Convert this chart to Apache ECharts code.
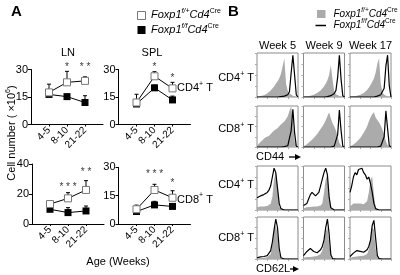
<!DOCTYPE html>
<html>
<head>
<meta charset="utf-8">
<script src="https://cdn.jsdelivr.net/npm/echarts@6/dist/echarts.min.js"></script>
<style>
  html, body { margin: 0; padding: 0; background: #fff; }
  #chart { width: 400px; height: 275px; }
</style>
</head>
<body>
<div id="chart"></div>
<script>
// ---------------------------------------------------------------------------
// Panel A - cell numbers (x10^6), open = f/+, filled = f/f
// ---------------------------------------------------------------------------
const ages = ["4-5", "8-10", "21-22"];

const lnCd4Open = [17.5, 23, 23.8];
const lnCd4OpenErr = [22, 29, 26];
const lnCd4Fill = [16.4, 15.2, 12];
const lnCd4FillErr = [17, 16.5, 15.7];
const lnCd4Stars = ["", "*", "* *"];
const lnCd4StarY = [null, 31.5, 31.5];

const splCd4Open = [12, 26.3, 19.7];
const splCd4OpenErr = [16.5, 28.8, 23];
const splCd4Fill = [11.2, 20, 13.4];
const splCd4FillErr = [13, 21.5, 15.5];
const splCd4Stars = ["", "*", "*"];
const splCd4StarY = [null, 31.5, 25];

const lnCd8Open = [13.3, 17.1, 22.7];
const lnCd8OpenErr = [15.5, 20.9, 28.9];
const lnCd8Fill = [9.8, 7.6, 8.7];
const lnCd8FillErr = [10.5, 10.9, 12];
const lnCd8Stars = ["", "* * *", "* *"];
const lnCd8StarY = [null, 24.5, 34.5];

const splCd8Open = [7.8, 18, 13.9];
const splCd8OpenErr = [10, 21, 17.6];
const splCd8Fill = [6.6, 10.1, 9.3];
const splCd8FillErr = [8, 12, 10.5];
const splCd8Stars = ["", "* * *", "*"];
const splCd8StarY = [null, 26.5, 21.5];

// ---------------------------------------------------------------------------
// Panel B - histograms (25 bins, % of max), grey = f/+, black = f/f
// ---------------------------------------------------------------------------
const weeks = ["Week 5", "Week 9", "Week 17"];

const cd44Cd4Grey = [
  [0, 1, 2, 3, 4, 6, 8, 11, 15, 19, 24, 30, 35, 42, 52, 70, 88, 30, 14, 8, 5, 3, 2, 1, 0],
  [0, 1, 1, 2, 3, 4, 5, 7, 9, 12, 15, 19, 24, 30, 38, 50, 72, 40, 12, 6, 4, 2, 1, 0, 0],
  [0, 1, 1, 2, 3, 4, 5, 7, 9, 12, 16, 21, 27, 34, 42, 55, 75, 88, 30, 10, 5, 3, 1, 0, 0]
];
const cd44Cd4Black = [
  [0, 0, 0, 0, 0, 0, 0, 0, 0, 0, 0, 0, 0, 0, 1, 1, 2, 3, 5, 12, 55, 95, 50, 5, 0],
  [0, 0, 0, 0, 0, 0, 0, 0, 0, 0, 0, 0, 0, 1, 1, 2, 3, 5, 8, 15, 45, 95, 40, 3, 0],
  [0, 0, 0, 0, 0, 0, 0, 0, 0, 0, 0, 0, 0, 0, 0, 1, 2, 3, 5, 8, 20, 70, 95, 25, 0]
];
const cd44Cd8Grey = [
  [2, 8, 12, 16, 20, 24, 28, 27, 32, 36, 40, 42, 46, 50, 55, 58, 62, 68, 75, 88, 100, 60, 15, 3, 0],
  [1, 4, 7, 10, 14, 18, 22, 27, 32, 38, 44, 50, 57, 65, 75, 85, 70, 58, 50, 40, 25, 10, 3, 0, 0],
  [1, 3, 6, 9, 13, 17, 22, 28, 35, 42, 50, 62, 72, 80, 85, 72, 66, 60, 52, 42, 30, 14, 4, 0, 0]
];
const cd44Cd8Black = [
  [0, 0, 0, 0, 0, 0, 0, 0, 0, 0, 0, 0, 0, 0, 0, 0, 1, 2, 3, 6, 40, 92, 35, 2, 0],
  [0, 0, 0, 0, 0, 0, 0, 0, 0, 0, 0, 0, 0, 0, 0, 0, 0, 1, 2, 4, 30, 90, 40, 2, 0],
  [0, 0, 0, 0, 0, 0, 0, 0, 0, 0, 0, 0, 0, 0, 0, 0, 0, 1, 2, 4, 25, 88, 45, 3, 0]
];
const cd62lCd4Grey = [
  [6, 7, 8, 8, 8, 9, 9, 10, 14, 30, 70, 85, 55, 8, 1, 0, 0, 0, 0, 0, 0, 0, 0, 0, 0],
  [4, 5, 6, 6, 7, 8, 8, 8, 8, 9, 10, 15, 40, 70, 80, 30, 3, 0, 0, 0, 0, 0, 0, 0, 0],
  [8, 12, 15, 16, 15, 14, 15, 14, 13, 15, 20, 40, 70, 75, 35, 5, 0, 0, 0, 0, 0, 0, 0, 0, 0]
];
const cd62lCd4Black = [
  [28, 30, 32, 33, 35, 37, 40, 45, 55, 75, 95, 85, 50, 15, 3, 1, 0, 0, 0, 0, 0, 0, 0, 0, 0],
  [10, 12, 15, 25, 35, 40, 38, 32, 30, 40, 55, 70, 85, 95, 80, 30, 5, 1, 0, 0, 0, 0, 0, 0, 0],
  [40, 55, 75, 85, 80, 92, 88, 95, 85, 80, 70, 75, 60, 40, 15, 3, 0, 0, 0, 0, 0, 0, 0, 0, 0]
];
const cd62lCd8Grey = [
  [2, 2, 2, 3, 3, 3, 4, 6, 12, 35, 70, 80, 60, 15, 1, 0, 0, 0, 0, 0, 0, 0, 0, 0, 0],
  [3, 4, 5, 5, 5, 6, 6, 6, 7, 8, 12, 20, 40, 65, 75, 40, 5, 0, 0, 0, 0, 0, 0, 0, 0],
  [3, 4, 5, 6, 6, 6, 7, 7, 8, 9, 12, 22, 50, 75, 70, 25, 3, 0, 0, 0, 0, 0, 0, 0, 0]
];
const cd62lCd8Black = [
  [3, 5, 5, 6, 6, 7, 8, 10, 20, 40, 70, 95, 75, 25, 3, 0, 0, 0, 0, 0, 0, 0, 0, 0, 0],
  [8, 12, 18, 22, 25, 22, 18, 15, 15, 17, 22, 30, 45, 75, 95, 60, 10, 1, 0, 0, 0, 0, 0, 0, 0],
  [6, 10, 14, 18, 20, 22, 18, 15, 16, 18, 22, 30, 45, 80, 92, 50, 8, 1, 0, 0, 0, 0, 0, 0, 0]
];

const FONT = "'Liberation Sans', Arial, sans-serif";
const GREY = "#ababab";

const chart = echarts.init(document.getElementById("chart"), null, { renderer: "canvas" });

const grids = [];
const xAxes = [];
const yAxes = [];
const series = [];

// --- panel A helpers -------------------------------------------------------
function errSeries(gi, means, tops) {
  return {
    type: "custom", xAxisIndex: gi, yAxisIndex: gi, z: 2, silent: true,
    data: means.map((m, i) => [i + 1, m, tops[i]]),
    renderItem: (params, api) => {
      const p0 = api.coord([api.value(0), api.value(1)]);
      const p1 = api.coord([api.value(0), api.value(2)]);
      const st = { stroke: "#000", lineWidth: 1 };
      return {
        type: "group",
        children: [
          { type: "line", shape: { x1: p0[0], y1: p0[1], x2: p1[0], y2: p1[1] }, style: st },
          { type: "line", shape: { x1: p1[0] - 2, y1: p1[1], x2: p1[0] + 2, y2: p1[1] }, style: st }
        ]
      };
    }
  };
}

function addLinePanel(rect, yMax, yInterval, d) {
  const gi = grids.length;
  grids.push({ left: rect[0], top: rect[1], width: rect[2], height: rect[3] });
  xAxes.push({
    gridIndex: gi, type: "category", data: ["", ...ages, ""], boundaryGap: false,
    axisLine: { lineStyle: { color: "#000", width: 1 } },
    axisTick: { interval: (i) => i >= 1 && i <= 3, length: 2, lineStyle: { color: "#000" } },
    axisLabel: { interval: 0, rotate: 45, fontSize: 10, color: "#000", margin: 4, fontFamily: FONT },
    splitLine: { show: false }
  });
  yAxes.push({
    gridIndex: gi, type: "value", min: 0, max: yMax, interval: yInterval,
    axisLine: { show: true, lineStyle: { color: "#000", width: 1 } },
    axisTick: { show: true, length: 3, lineStyle: { color: "#000" } },
    axisLabel: { fontSize: 11, color: "#000", margin: 3, fontFamily: FONT },
    splitLine: { show: false }
  });
  const pad = (arr) => [null, ...arr, null];
  series.push(errSeries(gi, d.fill, d.fillErr));
  series.push(errSeries(gi, d.open, d.openErr));
  series.push({
    type: "line", xAxisIndex: gi, yAxisIndex: gi, data: pad(d.fill), z: 3,
    symbol: "rect", symbolSize: 7, lineStyle: { color: "#000", width: 1 },
    itemStyle: { color: "#000", borderColor: "#000", borderWidth: 0 }
  });
  series.push({
    type: "line", xAxisIndex: gi, yAxisIndex: gi, data: pad(d.open), z: 4,
    symbol: "rect", symbolSize: 7, showAllSymbol: true, lineStyle: { color: "#000", width: 1 },
    itemStyle: { color: "#fff", borderColor: "#777", borderWidth: 1 }
  });
  series.push({
    type: "scatter", xAxisIndex: gi, yAxisIndex: gi, clip: false, z: 5,
    symbolSize: 1, itemStyle: { color: "rgba(0,0,0,0)" },
    data: d.stars.map((s, i) => (s ? [i + 1, d.starY[i], s] : null)).filter(Boolean),
    label: { show: true, position: "inside", color: "#000", fontSize: 10, fontFamily: FONT,
      formatter: (p) => p.data[2] }
  });
}

addLinePanel([31, 69.5, 72, 55], 30, 15, {
  open: lnCd4Open, openErr: lnCd4OpenErr, fill: lnCd4Fill, fillErr: lnCd4FillErr,
  stars: lnCd4Stars, starY: lnCd4StarY
});
addLinePanel([118.5, 69.5, 72, 55], 30, 15, {
  open: splCd4Open, openErr: splCd4OpenErr, fill: splCd4Fill, fillErr: splCd4FillErr,
  stars: splCd4Stars, starY: splCd4StarY
});
addLinePanel([32, 164, 72, 60], 40, 20, {
  open: lnCd8Open, openErr: lnCd8OpenErr, fill: lnCd8Fill, fillErr: lnCd8FillErr,
  stars: lnCd8Stars, starY: lnCd8StarY
});
addLinePanel([118.5, 167.3, 72, 56.7], 30, 15, {
  open: splCd8Open, openErr: splCd8OpenErr, fill: splCd8Fill, fillErr: splCd8FillErr,
  stars: splCd8Stars, starY: splCd8StarY
});

// --- panel B histograms ----------------------------------------------------
const colLeft = [257, 303.5, 350];
const rowTop = [53, 106, 166, 217];
const rowH = [44, 41, 44, 42];
const histRows = [
  [cd44Cd4Grey, cd44Cd4Black],
  [cd44Cd8Grey, cd44Cd8Black],
  [cd62lCd4Grey, cd62lCd4Black],
  [cd62lCd8Grey, cd62lCd8Black]
];

histRows.forEach(([greys, blacks], r) => {
  greys.forEach((grey, c) => {
    const gi = grids.length;
    grids.push({ left: colLeft[c], top: rowTop[r], width: 41, height: rowH[r],
      show: true, borderColor: "#8c8c8c", borderWidth: 1, backgroundColor: "rgba(0,0,0,0)" });
    xAxes.push({
      gridIndex: gi, type: "value", min: 0, max: 24, interval: 6,
      axisLine: { show: false }, splitLine: { show: false }, axisLabel: { show: false },
      axisTick: { show: true, length: 2, lineStyle: { color: "#aaa" } }
    });
    yAxes.push({
      gridIndex: gi, type: "value", min: 0, max: 100, interval: 25,
      axisLine: { show: false }, splitLine: { show: false }, axisLabel: { show: false },
      axisTick: { show: true, length: 2, lineStyle: { color: "#aaa" } }
    });
    series.push({
      type: "line", xAxisIndex: gi, yAxisIndex: gi, symbol: "none", silent: true, z: 1,
      data: grey.map((v, i) => [i, v]),
      lineStyle: { width: 0, opacity: 0 }, areaStyle: { color: GREY, opacity: 1 }
    });
    series.push({
      type: "line", xAxisIndex: gi, yAxisIndex: gi, symbol: "none", silent: true, z: 2,
      data: blacks[c].map((v, i) => [i, v]),
      lineStyle: { width: 1.2, color: "#000" }
    });
  });
});

// --- text and legends ------------------------------------------------------
// superscripts: smaller tokens raised with bottom padding
function richSet(size, supSize) {
  return {
    n: { fontSize: size, fontFamily: FONT, color: "#000" },
    i: { fontSize: size, fontFamily: FONT, color: "#000", fontStyle: "italic" },
    s: { fontSize: supSize, fontFamily: FONT, color: "#000", padding: [0, 0, 8, 0] },
    si: { fontSize: supSize, fontFamily: FONT, color: "#000", fontStyle: "italic", padding: [0, 0, 8, 0] }
  };
}
const rich = richSet(11, 7);
const richSmall = richSet(10, 6.5);

function txt(x, y, text, extra) {
  const el = {
    type: "text", x, y, silent: true,
    style: Object.assign({ text, rich, fontFamily: FONT, fontSize: 11, fill: "#000",
      align: "left", verticalAlign: "middle" }, (extra && extra.style) || {})
  };
  if (extra && extra.rotation != null) el.rotation = extra.rotation;
  return el;
}

const graphic = [
  txt(11, 12, "A", { style: { fontSize: 15, fontWeight: "bold" } }),
  txt(228, 12, "B", { style: { fontSize: 15, fontWeight: "bold" } }),
  { type: "rect", shape: { x: 137.5, y: 11.5, width: 8, height: 8 }, style: { fill: "#fff", stroke: "#777", lineWidth: 1 } },
  { type: "rect", shape: { x: 137.5, y: 26, width: 8, height: 8 }, style: { fill: "#000" } },
  txt(151, 15, "{i|Foxp1}{si|f/+}{i|Cd4}{s|Cre}"),
  txt(151, 30, "{i|Foxp1}{si|f/f}{i|Cd4}{s|Cre}"),
  txt(68, 53, "LN", { style: { align: "center" } }),
  txt(152, 53, "SPL", { style: { align: "center" } }),
  txt(177, 88, "{n|CD4}{s|+}{n| T}"),
  txt(177, 199.5, "{n|CD8}{s|+}{n| T}"),
  txt(12, 133, "{n|Cell number ( ×10}{s|6}{n|)}", { rotation: Math.PI / 2, style: { align: "center" } }),
  txt(118, 262, "Age (Weeks)", { style: { align: "center" } }),
  { type: "rect", shape: { x: 317, y: 10, width: 8.5, height: 8 }, style: { fill: GREY } },
  { type: "line", shape: { x1: 315.5, y1: 25.5, x2: 326, y2: 25.5 }, style: { stroke: "#000", lineWidth: 1.5 } },
  txt(333.5, 14, "{i|Foxp1}{si|f/+}{i|Cd4}{s|Cre}", { style: { rich: richSmall } }),
  txt(333.5, 25.5, "{i|Foxp1}{si|f/f}{i|Cd4}{s|Cre}", { style: { rich: richSmall } }),
  txt(254, 78, "{n|CD4}{s|+}{n| T}", { style: { align: "right" } }),
  txt(254, 129, "{n|CD8}{s|+}{n| T}", { style: { align: "right" } }),
  txt(254, 185, "{n|CD4}{s|+}{n| T}", { style: { align: "right" } }),
  txt(254, 238, "{n|CD8}{s|+}{n| T}", { style: { align: "right" } }),
  txt(256, 157, "CD44"),
  { type: "line", shape: { x1: 289, y1: 157, x2: 297, y2: 157 }, style: { stroke: "#000", lineWidth: 1.3 } },
  { type: "polygon", shape: { points: [[301, 157], [295, 154], [295, 160]] }, style: { fill: "#000" } },
  txt(256, 269, "CD62L"),
  { type: "line", shape: { x1: 290, y1: 269, x2: 295, y2: 269 }, style: { stroke: "#000", lineWidth: 1.3 } },
  { type: "polygon", shape: { points: [[299, 269], [293, 266], [293, 272]] }, style: { fill: "#000" } }
];
weeks.forEach((w, c) => {
  graphic.push(txt(colLeft[c] + 20.5, 46, w, { style: { align: "center" } }));
});

chart.setOption({
  animation: false,
  backgroundColor: "#fff",
  textStyle: { fontFamily: FONT },
  grid: grids,
  xAxis: xAxes,
  yAxis: yAxes,
  series,
  graphic
});
</script>
</body>
</html>
